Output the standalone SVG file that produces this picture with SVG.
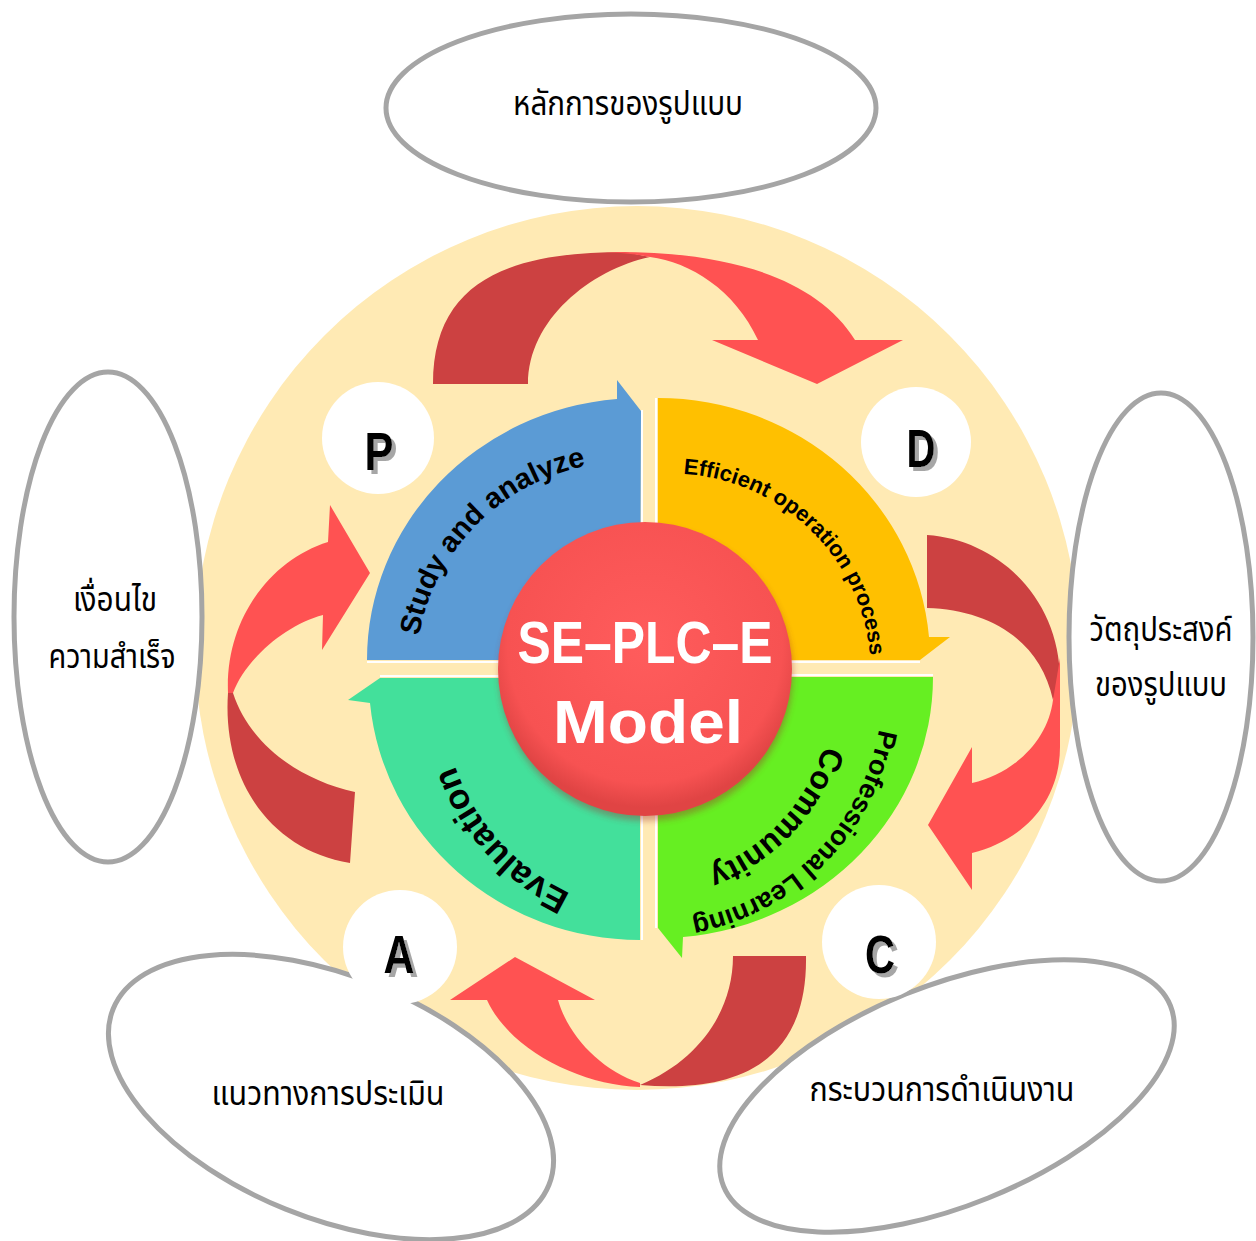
<svg xmlns="http://www.w3.org/2000/svg" width="1256" height="1241" viewBox="0 0 1256 1241">
<defs>
<style>
.oval{fill:#fff;stroke:#A5A5A5;stroke-width:5}
.th{font-family:'Noto Sans Thai','Noto Sans','DejaVu Sans',sans-serif;font-size:33px;fill:#000;text-anchor:middle}
.qt{font-family:'Liberation Sans',Arial,sans-serif;font-weight:bold;fill:#000}
.lt{fill:#FF5252}
.dk{fill:#CC4141}
.badge{fill:#fff}
.bl{font-family:'Liberation Sans',Arial,sans-serif;font-weight:bold;font-size:54px;text-anchor:middle;fill:#000;filter:url(#ds)}
.sep{stroke:#fff;stroke-width:2;fill:none}
</style>
<radialGradient id="rg" cx="50%" cy="42%" r="55%">
<stop offset="0" stop-color="#FF5C5C"/>
<stop offset="0.85" stop-color="#F75252"/>
<stop offset="1" stop-color="#E04444"/>
</radialGradient>
<filter id="sh" x="-20%" y="-20%" width="140%" height="140%">
<feGaussianBlur stdDeviation="3"/>
</filter>
<filter id="ds" x="-30%" y="-30%" width="160%" height="160%">
<feOffset in="SourceAlpha" dx="4" dy="4" result="o"/>
<feFlood flood-color="#A6A6A6"/>
<feComposite in2="o" operator="in" result="s"/>
<feMerge><feMergeNode in="s"/><feMergeNode in="SourceGraphic"/></feMerge>
</filter>
<path id="tp1" d="M 418 641 A 212 212 0 0 1 591 465"/>
<path id="tp2" d="M 685 474 A 200 200 0 0 1 870 654"/>
<path id="tp3" d="M 576 896 A 222 222 0 0 1 453 760"/>
<path id="tp4" d="M 880 724 A 235 235 0 0 1 686 920"/>
<path id="tp5" d="M 824 745 A 190 190 0 0 1 707 870"/>
</defs>

<circle id="bg" cx="637" cy="648" r="442" fill="#FFEAB4"/>

<g id="ovals">
<g id="oval-top"><ellipse class="oval" cx="631" cy="108" rx="245" ry="94"/><text class="th" x="628" y="115" textLength="230" lengthAdjust="spacingAndGlyphs">หลักการของรูปแบบ</text></g>
<g id="oval-left"><ellipse class="oval" cx="108" cy="617" rx="94" ry="245"/><text class="th" x="115" y="611" textLength="84" lengthAdjust="spacingAndGlyphs">เงื่อนไข</text><text class="th" x="112" y="668" textLength="127" lengthAdjust="spacingAndGlyphs">ความสำเร็จ</text></g>
<g id="oval-right"><ellipse class="oval" cx="1161" cy="637" rx="92" ry="244"/><text class="th" x="1161" y="641" textLength="143" lengthAdjust="spacingAndGlyphs">วัตถุประสงค์</text><text class="th" x="1161" y="696" textLength="132" lengthAdjust="spacingAndGlyphs">ของรูปแบบ</text></g>
<g id="oval-bl"><ellipse class="oval" cx="331" cy="1097" rx="235" ry="121" transform="rotate(22 331 1097)"/><text class="th" x="328" y="1105" textLength="233" lengthAdjust="spacingAndGlyphs">แนวทางการประเมิน</text></g>
<g id="oval-br"><ellipse class="oval" cx="947" cy="1096" rx="241" ry="110" transform="rotate(-22 947 1096)"/><text class="th" x="942" y="1101" textLength="265" lengthAdjust="spacingAndGlyphs">กระบวนการดำเนินงาน</text></g>
</g>

<g id="quadrants">
<g id="q-plan"><path fill="#5B9BD5" d="M 367 660 A 273 262 0 0 1 617 399 L 617 380 L 641 411 L 640 660 Z"/>
<text class="qt" font-size="29"><textPath href="#tp1" startOffset="50%" text-anchor="middle">Study and analyze</textPath></text></g>
<g id="q-do"><path fill="#FFC000" d="M 658 398 A 272 262 0 0 1 929 637 L 950 637 L 920 660 L 658 660 Z"/>
<text class="qt" font-size="22"><textPath href="#tp2" startOffset="50%" text-anchor="middle">Efficient operation process</textPath></text></g>
<g id="q-check"><path fill="#66EF22" d="M 933 677 A 275 261 0 0 1 683 937 L 682 958 L 658 928 L 658 677 Z"/>
<text class="qt" font-size="27"><textPath href="#tp4" startOffset="50%" text-anchor="middle">Professional Learning</textPath></text>
<text class="qt" font-size="32"><textPath href="#tp5" startOffset="50%" text-anchor="middle">Community</textPath></text></g>
<g id="q-act"><path fill="#43E09B" d="M 640 940 A 271 262 0 0 1 370 703 L 348 700 L 380 678 L 640 678 Z"/>
<text class="qt" font-size="35"><textPath href="#tp3" startOffset="50%" text-anchor="middle">Evaluation</textPath></text></g>
<path class="sep" d="M 642 410 L 642 662 L 367 662 M 656 398 L 656 662 L 920 662 M 656 928 L 656 675 L 933 675 M 380 676 L 642 676 L 642 940"/>
</g>

<g id="connectors">
<path class="dk" d="M 433 384 C 433 280 510 252 625 252 L 650 257 C 590 270 528 320 528 384 Z"/>
<path class="lt" d="M 605 252 C 720 250 815 275 855 340 L 903 340 L 817 384 L 712 340 L 758 340 C 735 290 690 262 650 257 Q 630 253 605 252 Z"/>
<path class="dk" d="M 927 535 C 1000 540 1060 600 1060 680 L 1053 700 C 1040 640 990 610 927 608 Z"/>
<path class="lt" d="M 1060 658 L 1060 747 C 1060 800 1025 840 972 853 L 972 890 L 928 825 L 972 747 L 972 783 C 1015 773 1048 740 1053 700 Z"/>
<path class="dk" d="M 733 956 L 806 956 C 808 1075 720 1092 640 1085 C 700 1060 733 1010 733 956 Z"/>
<path class="lt" d="M 640 1087 C 580 1085 510 1050 487 1000 L 450 1000 L 515 957 L 595 1000 L 558 1000 C 568 1035 600 1070 640 1083 Z"/>
<path class="dk" d="M 228 693 C 222 780 270 850 350 863 L 355 792 C 300 780 250 745 233 693 Z"/>
<path class="lt" d="M 228 693 C 225 620 270 560 328 542 L 330 505 L 370 573 L 322 650 L 323 615 C 285 625 245 660 233 693 Z"/>
</g>

<g id="badge-P"><circle class="badge" cx="378" cy="438" r="56"/><text class="bl" x="379" y="470" textLength="29" lengthAdjust="spacingAndGlyphs">P</text></g>
<g id="badge-D"><circle class="badge" cx="916" cy="442" r="55"/><text class="bl" x="921" y="467" textLength="29" lengthAdjust="spacingAndGlyphs">D</text></g>
<g id="badge-A"><circle class="badge" cx="400" cy="947" r="57"/><text class="bl" x="399" y="973" textLength="31" lengthAdjust="spacingAndGlyphs">A</text></g>
<g id="badge-C"><circle class="badge" cx="879" cy="942" r="57"/><text class="bl" x="880" y="973" textLength="30" lengthAdjust="spacingAndGlyphs">C</text></g>

<g id="center">
<circle cx="646" cy="674" r="147" fill="#9E2E2E" opacity="0.4" filter="url(#sh)"/>
<circle cx="645" cy="669" r="147" fill="url(#rg)"/>
<text x="645" y="663" font-family="'Liberation Sans',Arial,sans-serif" font-weight="bold" font-size="60" fill="#fff" text-anchor="middle" textLength="255" lengthAdjust="spacingAndGlyphs">SE–PLC–E</text>
<text x="648" y="743" font-family="'Liberation Sans',Arial,sans-serif" font-weight="bold" font-size="62" fill="#fff" text-anchor="middle" textLength="190" lengthAdjust="spacingAndGlyphs">Model</text>
</g>
</svg>
